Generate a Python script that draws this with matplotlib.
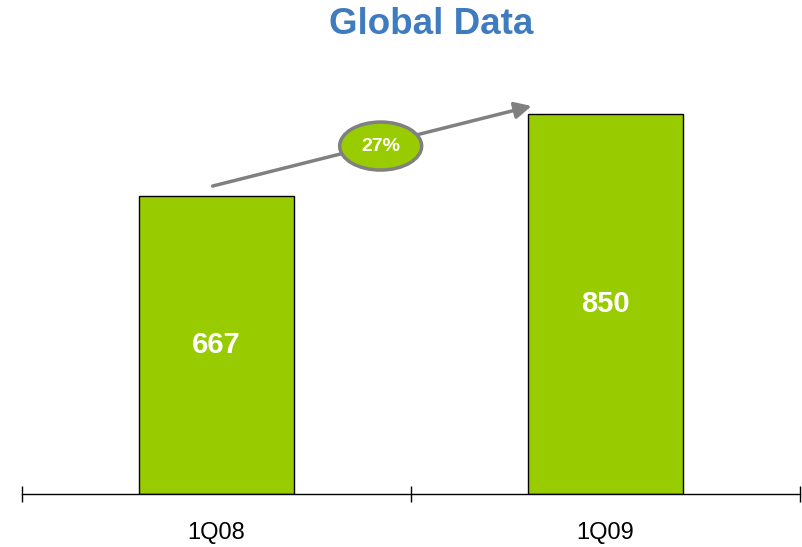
import matplotlib.pyplot as plt
from matplotlib.patches import Ellipse

quarters = ["1Q08", "1Q09"]
values = [667, 850]
title = "Global Data"

green = "#99CC00"
grey = "#808080"

fig = plt.figure(figsize=(8.03, 5.47), dpi=100)
ax = fig.add_axes([22 / 803, 53 / 547, 778 / 803, 434 / 547])

x = [0.5, 1.5]
ax.bar(x, values, width=0.4, color=green, edgecolor="black", linewidth=1)
ax.set_xlim(0, 2)
ax.set_ylim(0, 971)

for xi, v in zip(x, values):
    ax.text(xi, v / 2, str(v), ha="center", va="center", color="white",
            fontsize=21, fontweight="bold", family="Liberation Sans")

# axis with category dividers
for s in ["top", "left", "right"]:
    ax.spines[s].set_visible(False)
ax.spines["bottom"].set_linewidth(1)
ax.set_yticks([])
ax.set_xticks([0, 1, 2])
ax.set_xticklabels([])
ax.tick_params(axis="x", which="major", direction="inout", length=11, width=1)
ax.set_xticks(x, minor=True)
ax.set_xticklabels(quarters, minor=True, fontsize=17, family="Liberation Sans")
ax.tick_params(axis="x", which="minor", length=0, pad=20)

# growth arrow
growth = values[1] / values[0] - 1
x0, y0 = x[0] - 0.01, values[0] + 22
x1, y1 = x[1] - 0.19, values[1] + 18
ax.annotate("", xy=(x1, y1), xytext=(x0, y0),
            arrowprops=dict(arrowstyle="-|>,head_length=1.0,head_width=0.5",
                            color=grey, lw=2.5, shrinkA=0, shrinkB=0))
ex, ey = (x0 + x1) / 2 + 0.022, (y0 + y1) / 2
ax.add_patch(Ellipse((ex, ey), 82 / 389, 48 / 0.447, facecolor=green,
                     edgecolor=grey, linewidth=2.5, zorder=5))
ax.text(ex, ey, f"{growth:.0%}", ha="center", va="center", color="white",
        fontsize=14, fontweight="bold", family="Liberation Sans", zorder=6)

fig.text(431 / 803, 1 - 24 / 547, title, ha="center", va="center",
         color="#3F7BBF", fontsize=26.5, fontweight="bold", family="Liberation Sans")

fig.savefig("out.png", dpi=100)
